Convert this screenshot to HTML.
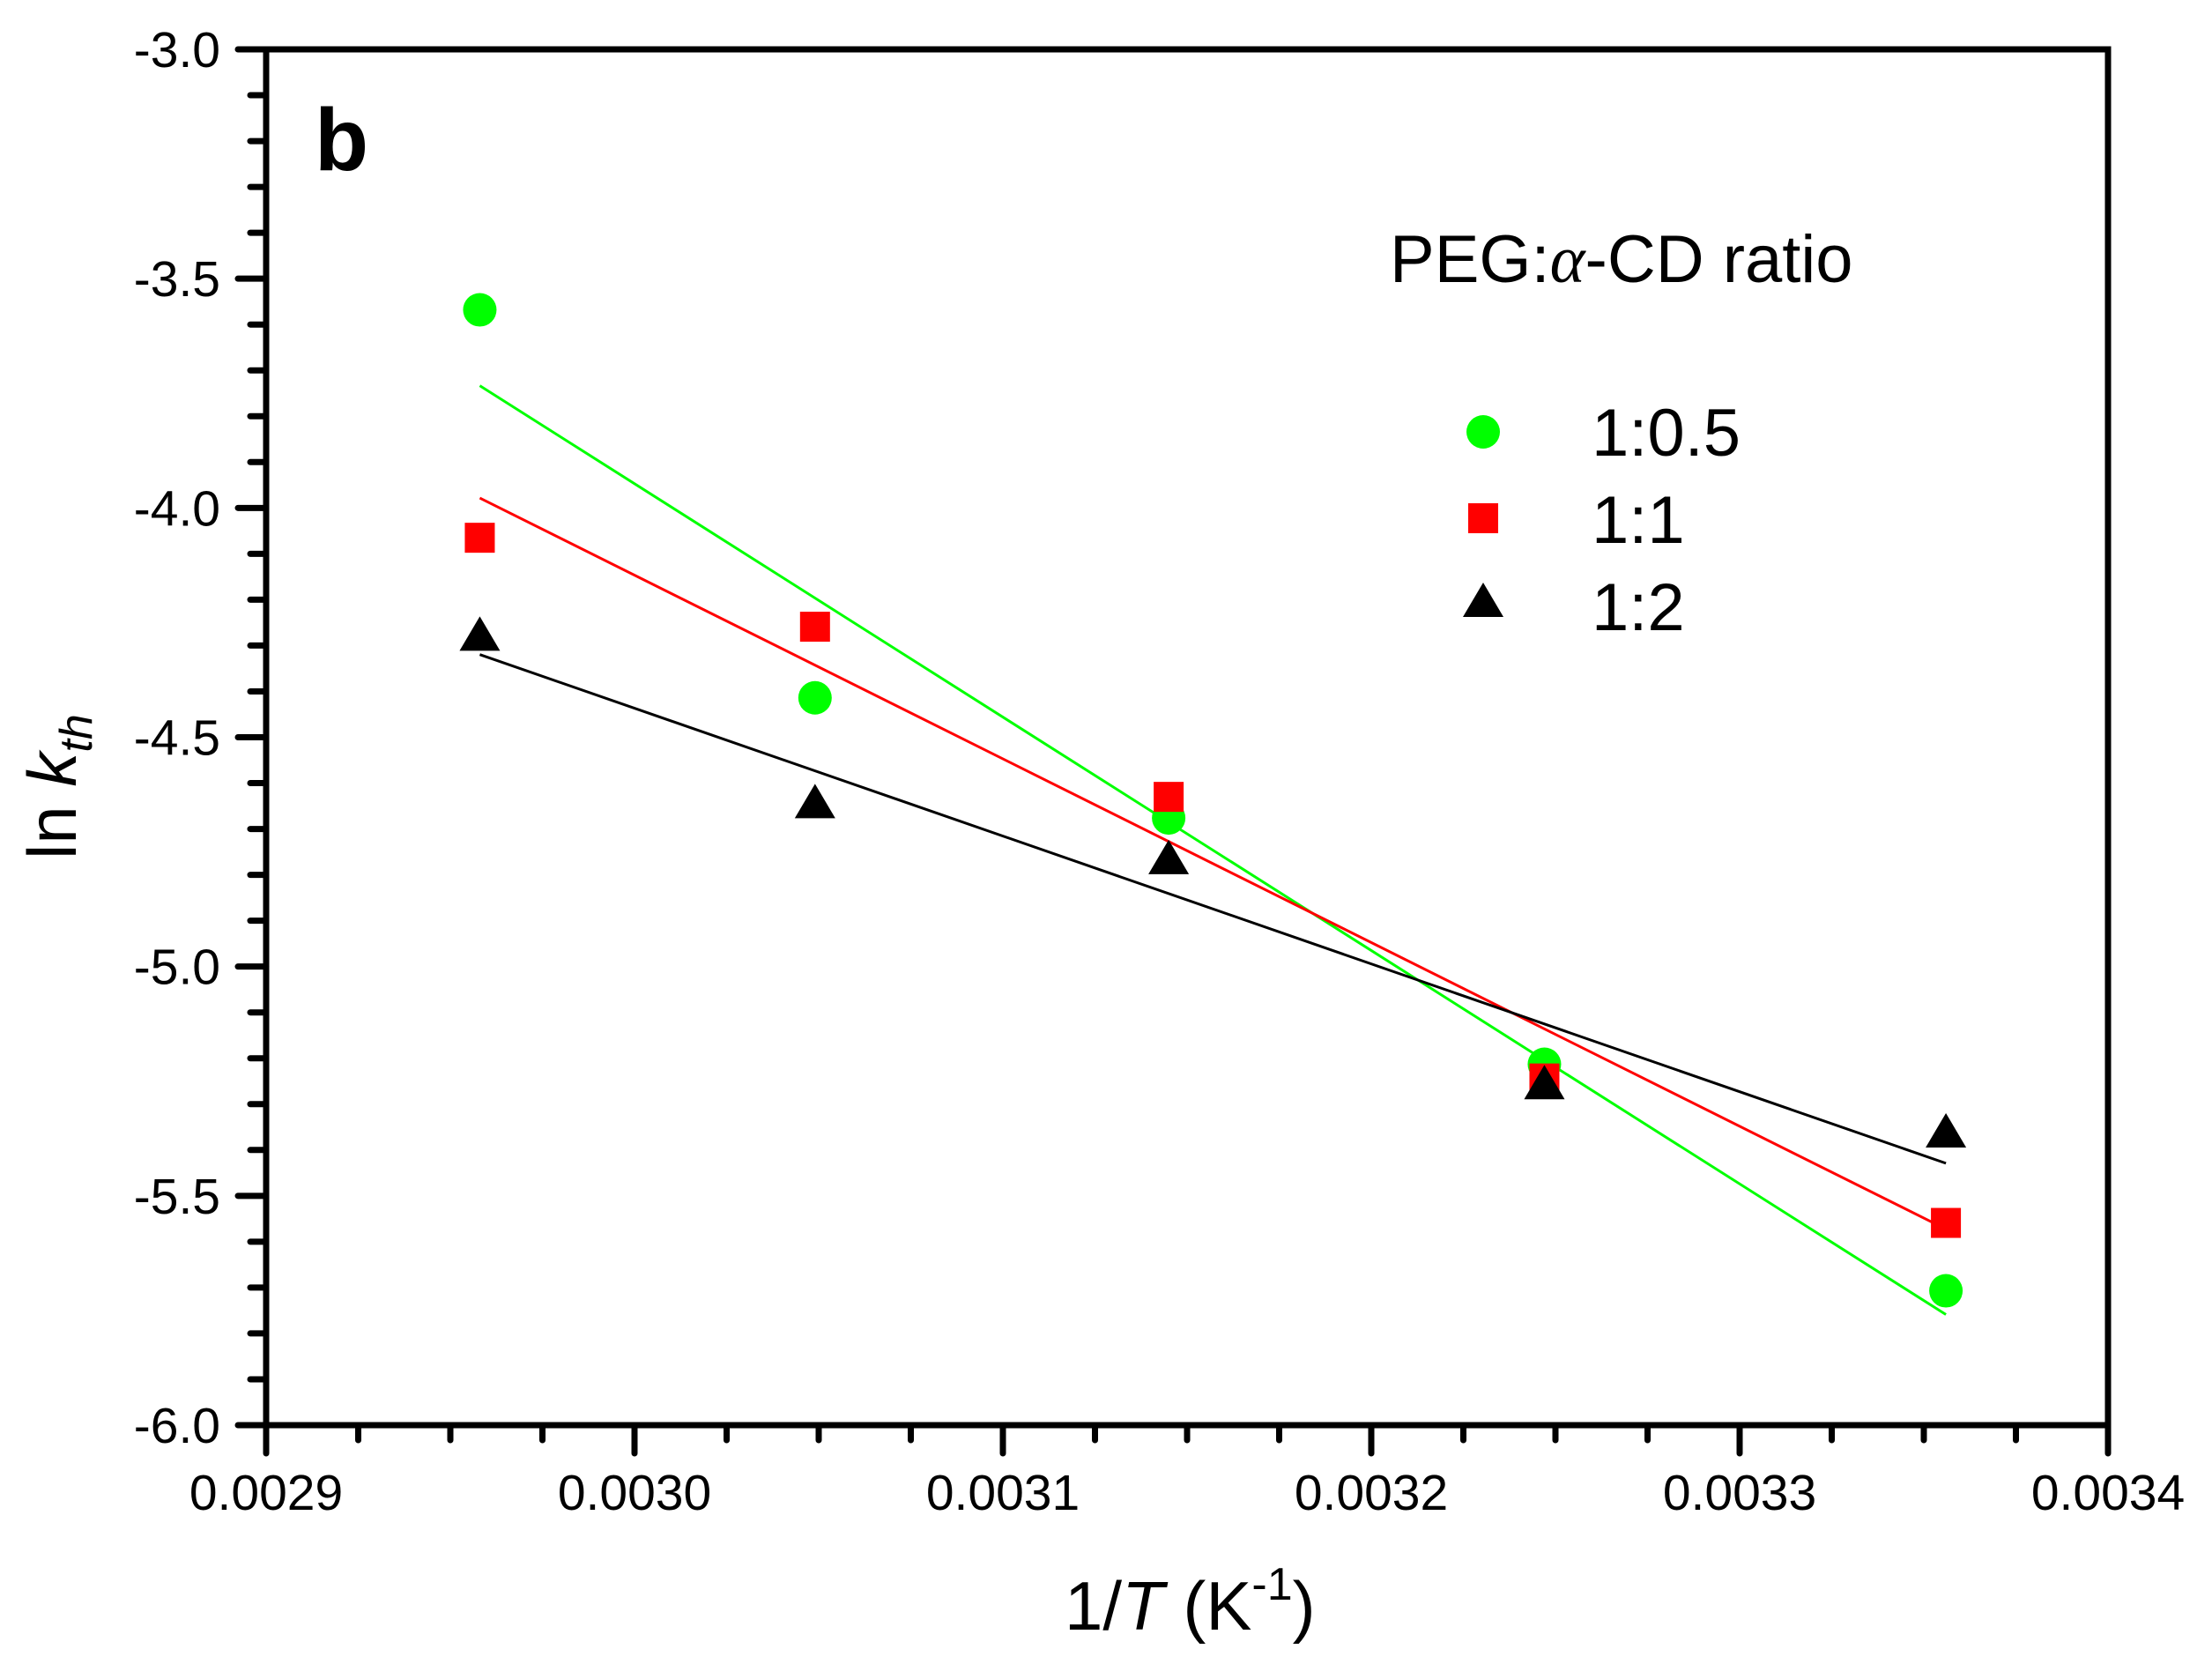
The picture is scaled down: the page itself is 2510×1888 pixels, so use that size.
<!DOCTYPE html>
<html><head><meta charset="utf-8"><style>
html,body{margin:0;padding:0;background:#fff}
svg{display:block;font-family:"Liberation Sans",Arial,sans-serif}
</style></head><body>
<svg id="chart" width="2510" height="1888" viewBox="0 0 2510 1888" xmlns="http://www.w3.org/2000/svg">
<rect x="0" y="0" width="2510" height="1888" fill="#fff"/>
<g id="marks"></g>
<g id="axes"></g>
<text x="357" y="193" font-size="100" font-weight="bold">b</text>
<text x="1208" y="1849" font-size="78">1/<tspan font-style="italic">T</tspan> (K<tspan font-size="52" dy="-34">-1</tspan><tspan dy="34">)</tspan></text>
<text transform="translate(86,975) rotate(-90)" font-size="78">ln <tspan font-style="italic">k</tspan><tspan font-style="italic" font-size="52" dy="18">th</tspan></text>
<text x="1577" y="320" font-size="76">PEG:<tspan font-family="Liberation Serif,serif" font-style="italic">α</tspan>-CD ratio</text>
<g>
<circle cx="1683" cy="490" r="19" fill="#00ff00"/>
<text x="1806" y="517" font-size="76">1:0.5</text></g>
<g>
<rect x="1666" y="571" width="34" height="34" fill="#ff0000"/>
<text x="1806" y="616" font-size="76">1:1</text></g>
<g>
<polygon points="1683,661 1706,700 1660,700" fill="#000"/>
<text x="1806" y="715" font-size="76">1:2</text></g>
</svg>
<script>
const xValues = [0.002958, 0.003049, 0.003145, 0.003247, 0.003356];
const green05 = [-3.568, -4.414, -4.676, -5.213, -5.707];
const red11 = [-4.065, -4.259, -4.630, -5.244, -5.559];
const black12 = [-4.275, -4.640, -4.762, -5.253, -5.358];
const xTickLabels = ["0.0029","0.0030","0.0031","0.0032","0.0033","0.0034"];
const yTickLabels = ["-3.0","-3.5","-4.0","-4.5","-5.0","-5.5","-6.0"];

const L=302,R=2392,T=56,B=1617;
const X0=0.0029,X1=0.0034,Y0=-6.0,Y1=-3.0;
function sx(v){return L+(v-X0)/(X1-X0)*(R-L);}
function sy(v){return B-(v-Y0)/(Y1-Y0)*(B-T);}
const NS="http://www.w3.org/2000/svg";
function mk(tag,attrs,parent){const e=document.createElementNS(NS,tag);for(const k in attrs)e.setAttribute(k,attrs[k]);parent.appendChild(e);return e;}
const marks=document.getElementById('marks'),axes=document.getElementById('axes');

function fit(xs,ys){const n=xs.length;let mx=0,my=0;for(let i=0;i<n;i++){mx+=xs[i];my+=ys[i];}mx/=n;my/=n;let sxy=0,sxx=0;for(let i=0;i<n;i++){sxy+=(xs[i]-mx)*(ys[i]-my);sxx+=(xs[i]-mx)**2;}const b=sxy/sxx;return [b,my-b*mx];}
const series=[{ys:green05,color:'#00ff00',shape:'circle',name:'1-0.5'},{ys:red11,color:'#ff0000',shape:'square',name:'1-1'},{ys:black12,color:'#000000',shape:'triangle',name:'1-2'}];
series.forEach(s=>{
  const [b,a]=fit(xValues,s.ys);
  const xa=xValues[0],xb=xValues[xValues.length-1];
  const ln=mk('line',{x1:sx(xa),y1:sy(a+b*xa),x2:sx(xb),y2:sy(a+b*xb),stroke:s.color,'stroke-width':3},marks);
  
  
});
series.forEach(s=>{
  s.ys.forEach((v,i)=>{
    const cx=sx(xValues[i]),cy=sy(v);let e;
    if(s.shape==='circle')e=mk('circle',{cx:cx,cy:cy,r:19,fill:s.color},marks);
    else if(s.shape==='square')e=mk('rect',{x:cx-17,y:cy-17,width:34,height:34,fill:s.color},marks);
    else e=mk('polygon',{points:`${cx},${cy-20} ${cx+23},${cy+19} ${cx-23},${cy+19}`,fill:s.color},marks);
    
    
  });
});
const frame=mk('rect',{x:L,y:T,width:R-L,height:B-T,fill:'none',stroke:'#000','stroke-width':7},axes);


for(let k=0;k<=30;k++){
  const v=Y1-k*0.1,y=sy(v),major=k%5===0;
  const t=mk('line',{x1:L-(major?32:18),y1:y,x2:L,y2:y,stroke:'#000','stroke-width':7,'stroke-linecap':'round'},axes);
  
  
}
yTickLabels.forEach(lab=>{
  const t=mk('text',{x:250,y:sy(parseFloat(lab))+20,'font-size':57,'text-anchor':'end'},axes);
  t.textContent=lab;
  
  
});
for(let k=0;k<=20;k++){
  const v=X0+k*0.000025,x=sx(v),major=k%4===0;
  const t=mk('line',{x1:x,y1:B,x2:x,y2:B+(major?32:17),stroke:'#000','stroke-width':7,'stroke-linecap':'round'},axes);
  
  
}
xTickLabels.forEach(lab=>{
  const t=mk('text',{x:sx(parseFloat(lab)),y:1713,'font-size':57,'text-anchor':'middle'},axes);
  t.textContent=lab;
  
  
});
</script>
</body></html>
